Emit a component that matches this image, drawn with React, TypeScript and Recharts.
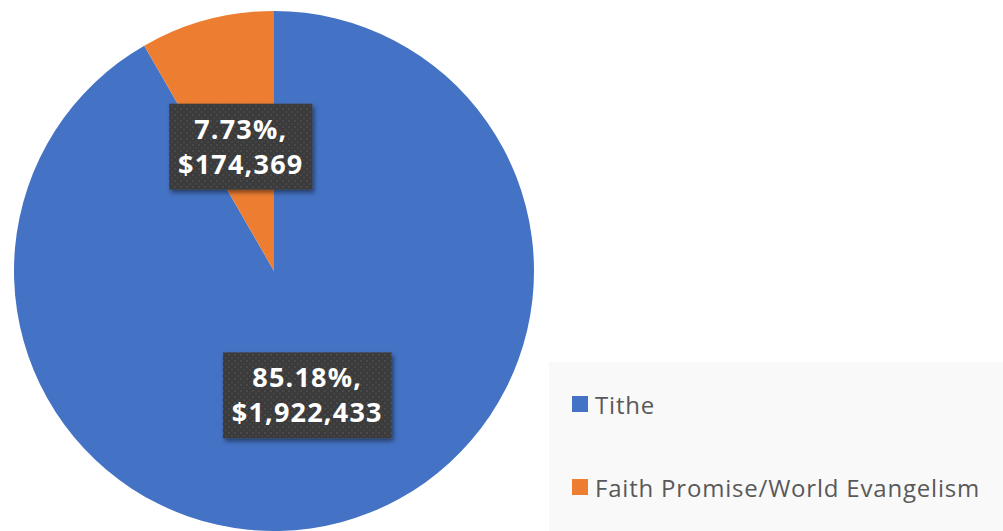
import React from 'react';
import { PieChart, Pie, Cell, Legend } from 'recharts';

const categories = ['Tithe', 'Faith Promise/World Evangelism'];
const amounts = [1922433, 174369];
const percentLabels = ['85.18%', '7.73%'];
const colors = ['#4472C4', '#ED7D31'];

const data = categories.map((name, i) => ({ name, value: amounts[i] }));

const LABEL_FONT_SIZE = 27;
const LABEL_LETTER_SPACING = 1.2;
const LABEL_FONT_FAMILY = '"Open Sans", "Noto Sans", sans-serif';

function measure(text: string): number {
  const ctx = document.createElement('canvas').getContext('2d');
  if (!ctx) return text.length * 15;
  ctx.font = `bold ${LABEL_FONT_SIZE}px ${LABEL_FONT_FAMILY}`;
  return ctx.measureText(text).width + (text.length - 1) * LABEL_LETTER_SPACING;
}

const renderLabel = (props: any) => {
  const { cx, cy, midAngle, outerRadius, index } = props;
  const RAD = Math.PI / 180;
  const r = outerRadius * 0.495;
  const x = cx + r * Math.cos(-midAngle * RAD);
  const y = cy + r * Math.sin(-midAngle * RAD);
  const line1 = `${percentLabels[index]},`;
  const line2 = `$${amounts[index].toLocaleString('en-US')}`;
  const w = Math.max(measure(line1), measure(line2)) + 19;
  const h = 86;
  return (
    <g key={`lbl-${index}`}>
      <rect x={x - w / 2} y={y - h / 2} width={w} height={h} fill="url(#dotPattern)" filter="url(#boxShadow)" />
      <text
        x={x}
        textAnchor="middle"
        fill="#ffffff"
        fontFamily={LABEL_FONT_FAMILY}
        fontWeight="bold"
        fontSize={LABEL_FONT_SIZE}
        letterSpacing={LABEL_LETTER_SPACING}
      >
        <tspan x={x} y={y - 8}>{line1}</tspan>
        <tspan x={x} y={y + 27}>{line2}</tspan>
      </text>
    </g>
  );
};

const LegendBox = () => (
  <div
    style={{
      width: 454,
      height: 169,
      background: '#f9f9f9',
      position: 'relative',
      fontFamily: '"Open Sans", "Noto Sans", sans-serif',
      fontSize: 24,
      letterSpacing: 0.8,
      color: '#595959',
    }}
  >
    {categories.map((name, i) => (
      <div
        key={name}
        style={{
          position: 'absolute',
          left: 23,
          top: i === 0 ? 26 : 109,
          display: 'flex',
          alignItems: 'center',
          height: 32,
          whiteSpace: 'nowrap',
        }}
      >
        <span style={{ display: 'inline-block', width: 16, height: 16, background: colors[i], marginRight: 7 }} />
        <span>{name}</span>
      </div>
    ))}
  </div>
);

export default function App() {
  return (
    <div style={{ position: 'absolute', left: 0, top: 0, width: 1003, height: 531, background: '#ffffff' }}>
      <style>{`.recharts-pie-sectors { filter: drop-shadow(0px 0px 3px rgba(0,0,0,0.22)); }`}</style>
      <PieChart width={1003} height={531} margin={{ top: 0, right: 0, bottom: 0, left: 0 }}>
        <defs>
          <pattern id="dotPattern" width="6" height="6" patternUnits="userSpaceOnUse">
            <rect width="6" height="6" fill="#3b3b3b" />
            <rect x="0" y="0" width="2" height="2" fill="#4a4a4a" />
            <rect x="3" y="3" width="2" height="2" fill="#454545" />
          </pattern>
          <filter id="boxShadow" x="-20%" y="-20%" width="140%" height="140%">
            <feDropShadow dx="2" dy="3" stdDeviation="2" floodColor="#000" floodOpacity="0.45" />
          </filter>
        </defs>
        <Pie
          data={data}
          dataKey="value"
          nameKey="name"
          cx={274}
          cy={271}
          outerRadius={260}
          startAngle={90}
          endAngle={-270}
          stroke="none"
          label={renderLabel}
          labelLine={false}
          isAnimationActive={false}
        >
          {data.map((d, i) => (
            <Cell key={d.name} fill={colors[i]} />
          ))}
        </Pie>
        <Legend
          content={<LegendBox />}
          wrapperStyle={{ left: 549, top: 362, width: 454, height: 169, bottom: 'auto', right: 'auto' }}
        />
      </PieChart>
    </div>
  );
}
